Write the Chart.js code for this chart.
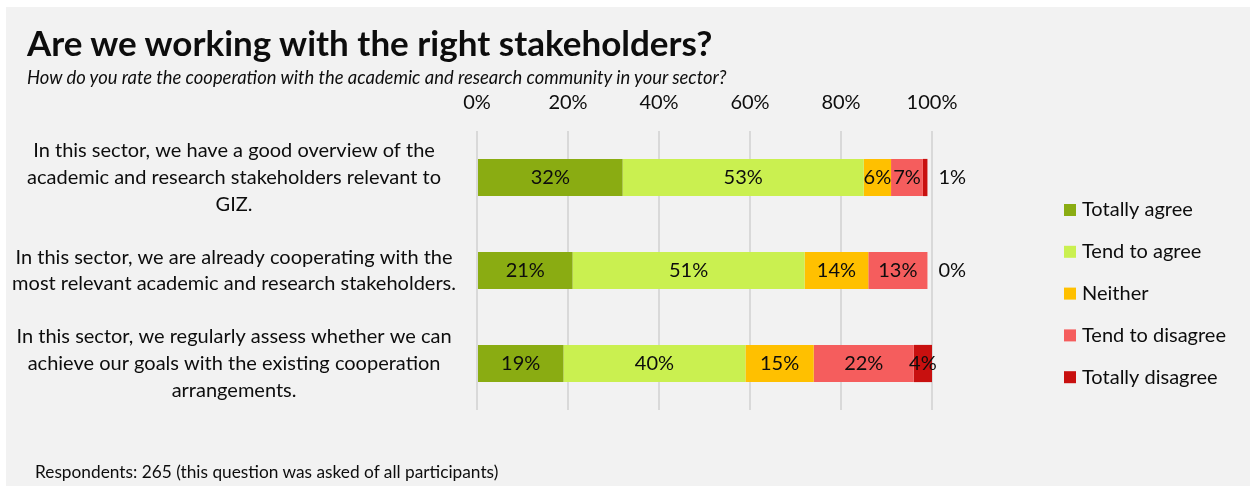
<!DOCTYPE html>
<html>
<head>
<meta charset="utf-8">
<script src="https://cdn.jsdelivr.net/npm/chart.js@4.4.0/dist/chart.umd.min.js"></script>
<style>
  body { margin: 0; background: #fff; font-family: Lato, sans-serif; color: #0d0d0d; }
  #panel { position: absolute; left: 6px; top: 7px; width: 1244px; height: 479px; background: #f2f2f2; }
  #wrap { position: absolute; left: 0; top: 0; width: 1250px; height: 486px; }
  .title { position: absolute; left: 27px; top: 22px; font-size: 35px; font-weight: bold; line-height: 40px; white-space: nowrap; }
  .subtitle { position: absolute; left: 27px; top: 66px; font-size: 18.4px; font-style: italic; line-height: 22px; white-space: nowrap; }
  .footer { position: absolute; left: 35px; top: 462px; font-size: 17.3px; line-height: 20px; white-space: nowrap; }
</style>
</head>
<body>
<div id="panel"></div>
<div id="wrap"><canvas id="stakeholderChart" width="1250" height="486"></canvas></div>
<div class="title">Are we working with the right stakeholders?</div>
<div class="subtitle">How do you rate the cooperation with the academic and research community in your sector?</div>
<div class="footer">Respondents: 265 (this question was asked of all participants)</div>

<script>
// statements, one per bar (split into lines as shown)
const statements = [
    ['In this sector, we have a good overview of the', 'academic and research stakeholders relevant to', 'GIZ.'],
    ['In this sector, we are already cooperating with the', 'most relevant academic and research stakeholders.'],
    ['In this sector, we regularly assess whether we can', 'achieve our goals with the existing cooperation', 'arrangements.']
];

// answer shares in percent
const totallyAgree    = [32, 21, 19];
const tendToAgree     = [53, 51, 40];
const neither         = [6, 14, 15];
const tendToDisagree  = [7, 13, 22];
const totallyDisagree = [1, 0, 4];

const answerNames  = ['Totally agree', 'Tend to agree', 'Neither', 'Tend to disagree', 'Totally disagree'];
const answerColors = ['#8aac12', '#caf050', '#ffc000', '#f55d5d', '#c8100f'];
const percentTicks = [0, 20, 40, 60, 80, 100];

const LABEL_FONT = '20px Lato';
const TEXT_COLOR = '#0d0d0d';

// value labels: centred in each segment, tiny ones go right of the bar
const segmentLabels = {
    id: 'segmentLabels',
    afterDatasetsDraw(chart) {
        const ctx = chart.ctx;
        ctx.save();
        ctx.font = LABEL_FONT;
        ctx.fillStyle = TEXT_COLOR;
        ctx.textBaseline = 'middle';
        chart.data.datasets.forEach((ds, di) => {
            const meta = chart.getDatasetMeta(di);
            meta.data.forEach((bar, i) => {
                const v = ds.data[i];
                const txt = v + '%';
                if (v < 2) {
                    ctx.textAlign = 'left';
                    ctx.fillText(txt, bar.x + 11, bar.y);
                } else {
                    ctx.textAlign = 'center';
                    ctx.fillText(txt, (bar.x + bar.base) / 2, bar.y);
                }
            });
        });
        ctx.restore();
    }
};

// legend column to the right of the plot
const sideLegend = {
    id: 'sideLegend',
    afterDraw(chart) {
        const { ctx, chartArea } = chart;
        const x = chartArea.right + 132;
        let y = chartArea.top + 79;
        ctx.save();
        ctx.font = LABEL_FONT;
        ctx.textBaseline = 'middle';
        ctx.textAlign = 'left';
        chart.data.datasets.forEach(ds => {
            ctx.fillStyle = ds.backgroundColor;
            ctx.fillRect(x, y - 6, 12, 12);
            ctx.fillStyle = TEXT_COLOR;
            ctx.fillText(ds.label, x + 18, y);
            y += 41.8;
        });
        ctx.restore();
    }
};

function buildChart() {
    const canvas = document.getElementById('stakeholderChart');
    const ctx = canvas.getContext('2d');

    const values = [totallyAgree, tendToAgree, neither, tendToDisagree, totallyDisagree];
    const datasets = answerNames.map((name, i) => ({
        label: name,
        data: values[i],
        backgroundColor: answerColors[i],
        borderWidth: 0,
        barPercentage: 0.4,
        categoryPercentage: 1.0
    }));

    new Chart(ctx, {
        type: 'bar',
        data: { labels: statements, datasets: datasets },
        options: {
            indexAxis: 'y',
            responsive: false,
            animation: false,
            layout: { padding: { left: 0, top: 90, right: 318, bottom: 76 } },
            plugins: {
                legend: { display: false },
                tooltip: { enabled: false }
            },
            scales: {
                x: {
                    position: 'top',
                    stacked: true,
                    min: 0,
                    max: 100,
                    afterBuildTicks: scale => { scale.ticks = percentTicks.map(v => ({ value: v })); },
                    afterFit: scale => { scale.height = 41; },
                    grid: { color: '#d9d9d9', lineWidth: 2, drawTicks: false },
                    border: { display: false },
                    ticks: {
                        padding: 16,
                        color: TEXT_COLOR,
                        font: { family: 'Lato', size: 20 },
                        callback: v => v + '%'
                    }
                },
                y: {
                    stacked: true,
                    afterFit: scale => { scale.width = 477; },
                    grid: { display: false },
                    border: { display: false },
                    ticks: {
                        padding: 13,
                        crossAlign: 'center',
                        color: TEXT_COLOR,
                        font: { family: 'Lato', size: 20, lineHeight: 1.33 }
                    }
                }
            }
        },
        plugins: [segmentLabels, sideLegend]
    });
}

Promise.all([
    document.fonts.load('20px Lato'),
    document.fonts.load('bold 35px Lato'),
    document.fonts.load('italic 18px Lato')
]).then(buildChart, buildChart);
</script>
</body>
</html>
